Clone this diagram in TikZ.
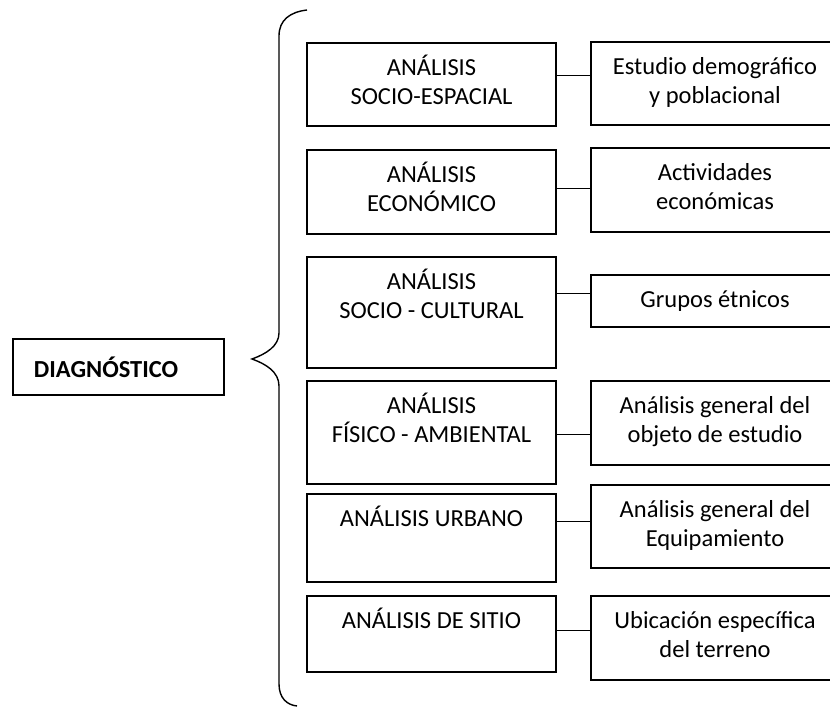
\documentclass[tikz,border=0pt]{standalone}
\usepackage{fontspec}
\setmainfont{Carlito}
\usepackage{tikz}
\usetikzlibrary{positioning}
\usetikzlibrary{calc}

\begin{document}
\begin{tikzpicture}[x=1pt,y=-1pt,
    box/.style={draw,line width=1.4pt,rectangle,inner sep=0pt},
    txt/.style={font=\fontsize{24.5}{29.5}\selectfont,align=center,inner sep=0pt}]
    \useasboundingbox (0,0) rectangle (830,708);
    % left column
    \begin{scope}[every node/.style={box,minimum width=249pt}]
    \node[minimum height=83pt] (soc) at (431.5,84.5) {};
    \node[minimum height=84pt] (eco) at (431.5,192) {};
    \node[minimum height=111pt] (cul) at (431.5,312.5) {};
    \node[minimum height=103pt] (fis) at (431.5,432.5) {};
    \node[minimum height=88pt] (urb) at (431.5,538) {};
    \node[minimum height=76pt] (sit) at (431.5,634) {};
    \end{scope}
    % right column
    \begin{scope}[every node/.style={box,minimum width=248pt}]
    \node[minimum height=83pt] (dem) at (715,83.5) {};
    \node[minimum height=84pt] (act) at (715,190) {};
    \node[minimum height=52pt] (etn) at (715,301) {};
    \node[minimum height=84pt] (obj) at (715,423) {};
    \node[minimum height=83pt] (equ) at (715,526.5) {};
    \node[minimum height=84pt] (ubi) at (715,638) {};
    \end{scope}
    % texts
    \begin{scope}[every node/.style={txt}]
    \node[below=12pt of soc.north] (tsoc) {\strut ANÁLISIS\\SOCIO-ESPACIAL};
    \node[below=12pt of eco.north] (teco) {\strut ANÁLISIS\\ECONÓMICO};
    \node[below=12pt of cul.north] (tcul) {\strut ANÁLISIS\\SOCIO - CULTURAL};
    \node[below=12pt of fis.north] (tfis) {\strut ANÁLISIS\\FÍSICO - AMBIENTAL};
    \node[below=12pt of urb.north] (turb) {\strut ANÁLISIS URBANO};
    \node[below=12pt of sit.north] (tsit) {\strut ANÁLISIS DE SITIO};
    \node[below=12pt of dem.north] (tdem) {\strut Estudio demográfico\\y poblacional};
    \node[below=12pt of act.north] (tact) {\strut Actividades\\económicas};
    \node[below=12pt of etn.north] (tetn) {\strut Grupos étnicos};
    \node[below=12pt of obj.north] (tobj) {\strut Análisis general del\\objeto de estudio};
    \node[below=12pt of equ.north] (tequ) {\strut Análisis general del\\Equipamiento};
    \node[below=12pt of ubi.north] (tubi) {\strut Ubicación específica\\del terreno};
    \end{scope}
    \node[box,txt,font=\fontsize{24.5}{29.5}\selectfont\bfseries,align=left,text width=169pt,
          inner xsep=21pt,minimum height=56pt] (diag) at (118.5,367) {DIAGNÓSTICO};
    % brace
    \coordinate (tip) at (252,359);
    \draw[line width=1.4pt] (307,10) .. controls (290,12) and (279,20) .. (279,36)
        -- (279,333) .. controls (279,346) and (266,354) .. (tip)
        .. controls (266,364) and (279,372) .. (279,386)
        -- (279,684) .. controls (279,698) and (287,705) .. (297,706);
    % connectors
    \path (soc.east) ++(0,-8.5) coordinate (j1);
    \path (eco.east) ++(0,-3) coordinate (j2);
    \path (cul.east) ++(0,-18.5) coordinate (j3);
    \path (fis.east) ++(0,1.5) coordinate (j4);
    \path (urb.east) ++(0,-17) coordinate (j5);
    \path (sit.east) ++(0,-4) coordinate (j6);
    \begin{scope}[every edge/.style={draw=black,line width=1pt}]
    \path (j1) edge (j1 -| dem.west);
    \path (j2) edge (j2 -| act.west);
    \path (j3) edge (j3 -| etn.west);
    \path (j4) edge (j4 -| obj.west);
    \path (j5) edge (j5 -| equ.west);
    \path (j6) edge (j6 -| ubi.west);
    \end{scope}
\end{tikzpicture}
\end{document}
